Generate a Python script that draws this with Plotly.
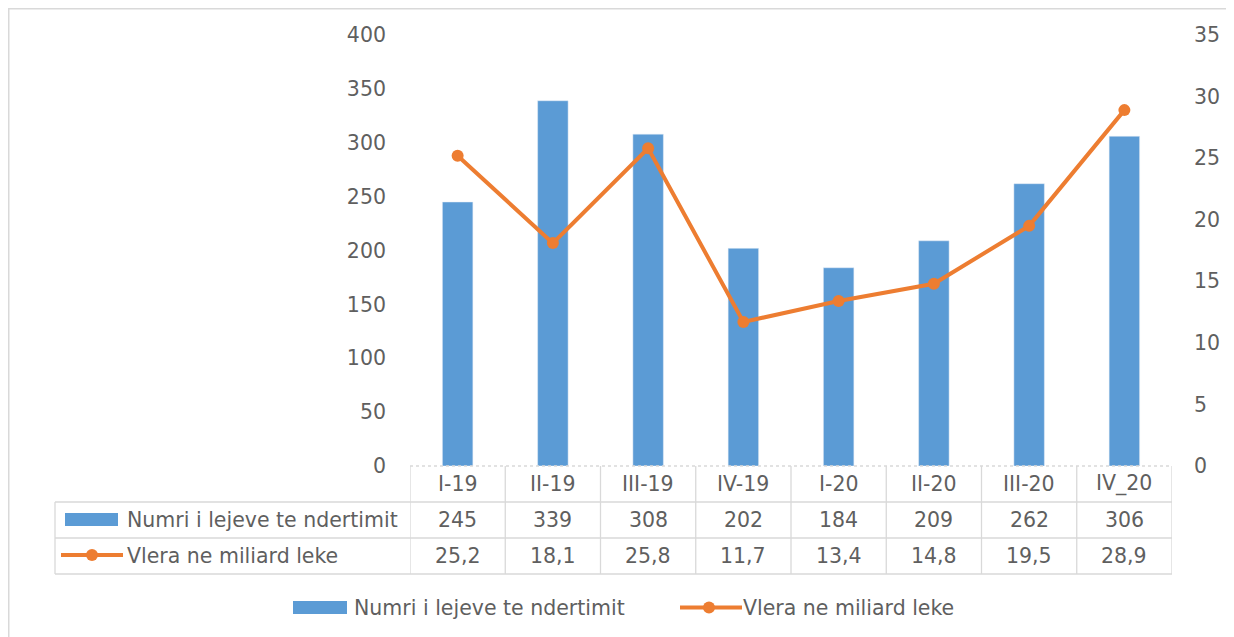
import plotly.graph_objects as go

categories = ["I-19", "II-19", "III-19", "IV-19", "I-20", "II-20", "III-20", "IV_20"]
permits = [245, 339, 308, 202, 184, 209, 262, 306]
value_bn = [25.2, 18.1, 25.8, 11.7, 13.4, 14.8, 19.5, 28.9]
name_bar = "Numri i lejeve te ndertimit"
name_line = "Vlera ne miliard leke"
left_ticks = [0, 50, 100, 150, 200, 250, 300, 350, 400]
right_ticks = [0, 5, 10, 15, 20, 25, 30, 35]

# page offset: the browser body has an 8px margin
OFF = 8
W, H = 1234, 637
L, R, T, B = 410, 1172, 35, 466
BLUE = "#5b9bd5"
ORANGE = "#ed7d31"
TXT = "#5f5f5f"
GRID = "#d9d9d9"
FONT = "DejaVu Sans"
FS = 20.5


def px(x):
    return (x - L) / (R - L)


def py(y):
    return (B - y) / (B - T)


fig = go.Figure()
fig.add_trace(go.Bar(x=categories, y=permits, name=name_bar, marker_color=BLUE,
                     width=0.32, yaxis="y", showlegend=False))
fig.add_trace(go.Scatter(x=categories, y=value_bn, name=name_line, mode="lines+markers",
                         line=dict(color=ORANGE, width=4), marker=dict(size=12, color=ORANGE),
                         yaxis="y2", showlegend=False))

shapes = []
ann = []
line_style = dict(color=GRID, width=1.3)
font = dict(family=FONT, size=FS, color=TXT)

# outer frame
shapes.append(dict(type="rect", xref="paper", yref="paper", x0=px(8.75), x1=px(W + 20),
                   y0=py(H + 20), y1=py(8.75), line=dict(color=GRID, width=1.5)))

# table horizontal lines
shapes.append(dict(type="line", xref="paper", yref="paper", x0=0, x1=1, y0=py(466), y1=py(466),
                   line=dict(color=GRID, width=1.3, dash="dot")))
for yy in [502, 538, 574]:
    shapes.append(dict(type="line", xref="paper", yref="paper", x0=px(55), x1=1, y0=py(yy), y1=py(yy),
                       line=line_style))
shapes.append(dict(type="line", xref="paper", yref="paper", x0=px(55), x1=px(55), y0=py(502), y1=py(574),
                   line=line_style))
for i in range(len(categories) + 1):
    shapes.append(dict(type="line", xref="x", yref="paper", x0=i - 0.5, x1=i - 0.5,
                       y0=py(466), y1=py(574), line=line_style))

# table text
for i, c in enumerate(categories):
    for yy, txt in [(484, c), (520, str(permits[i])), (556, f"{value_bn[i]:.1f}".replace(".", ","))]:
        ann.append(dict(x=c, xref="x", y=py(yy), yref="paper", text=txt, showarrow=False,
                        xanchor="center", yanchor="middle", font=font))

# row labels with keys
shapes.append(dict(type="rect", xref="paper", yref="paper", x0=px(65), x1=px(118), y0=py(526), y1=py(513),
                   line=dict(width=0), fillcolor=BLUE))
shapes.append(dict(type="line", xref="paper", yref="paper", x0=px(61), x1=px(123), y0=py(555), y1=py(555),
                   line=dict(color=ORANGE, width=4)))
shapes.append(dict(type="circle", xref="paper", yref="paper", x0=px(86), x1=px(98), y0=py(561), y1=py(549),
                   line=dict(width=0), fillcolor=ORANGE))
ann.append(dict(x=px(125), xref="paper", y=py(520), yref="paper", text=name_bar, xanchor="left",
                yanchor="middle", showarrow=False, font=font))
ann.append(dict(x=px(125), xref="paper", y=py(556), yref="paper", text=name_line, xanchor="left",
                yanchor="middle", showarrow=False, font=font))

# bottom legend
LY = 607.5
shapes.append(dict(type="rect", xref="paper", yref="paper", x0=px(293), x1=px(347), y0=py(LY + 6.5),
                   y1=py(LY - 6.5), line=dict(width=0), fillcolor=BLUE))
ann.append(dict(x=px(352), xref="paper", y=py(LY), yref="paper", text=name_bar, xanchor="left",
                yanchor="middle", showarrow=False, font=font))
shapes.append(dict(type="line", xref="paper", yref="paper", x0=px(680), x1=px(742), y0=py(LY), y1=py(LY),
                   line=dict(color=ORANGE, width=4)))
shapes.append(dict(type="circle", xref="paper", yref="paper", x0=px(703), x1=px(715), y0=py(LY + 6),
                   y1=py(LY - 6), line=dict(width=0), fillcolor=ORANGE))
ann.append(dict(x=px(741), xref="paper", y=py(LY), yref="paper", text=name_line, xanchor="left",
                yanchor="middle", showarrow=False, font=font))

fig.update_layout(
    width=W - OFF, height=H - OFF,
    margin=dict(l=L - OFF, r=W - R, t=T - OFF, b=H - B, pad=0),
    paper_bgcolor="white", plot_bgcolor="white",
    showlegend=False,
    shapes=shapes, annotations=ann,
    xaxis=dict(type="category", showticklabels=False, showgrid=False, zeroline=False, showline=False,
               ticks="", range=[-0.5, len(categories) - 0.5]),
    yaxis=dict(range=[0, 400], tickvals=left_ticks, showgrid=False, zeroline=False, showline=False,
               ticks="", ticklabelstandoff=23, tickfont=font),
    yaxis2=dict(range=[0, 35], tickvals=right_ticks, overlaying="y", side="right", showgrid=False,
                zeroline=False, showline=False, ticks="", ticklabelstandoff=21, tickfont=font),
)

fig.write_html("out.html")
